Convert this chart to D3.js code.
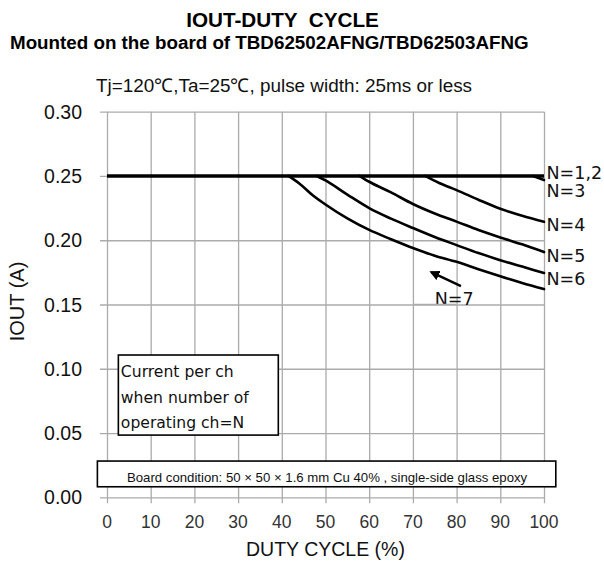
<!DOCTYPE html>
<html>
<head>
<meta charset="utf-8">
<script src="https://cdn.jsdelivr.net/npm/d3@7"></script>
<style>
  html, body { margin: 0; padding: 0; background: #fff; }
  svg { display: block; }
  text { white-space: pre; }
</style>
</head>
<body>
<svg id="chart" width="604" height="562"></svg>
<script>
// ---------------- Data ----------------
const titleText = "IOUT-DUTY  CYCLE";
const subtitleText = "Mounted on the board of TBD62502AFNG/TBD62503AFNG";
const conditionText = "Tj=120℃,Ta=25℃, pulse width: 25ms or less";
const xAxisTitle = "DUTY CYCLE (%)";
const yAxisTitle = "IOUT (A)";
const xTicks = [0, 10, 20, 30, 40, 50, 60, 70, 80, 90, 100];
const yTicks = [0.00, 0.05, 0.10, 0.15, 0.20, 0.25, 0.30];
const legendLines = ["Current per ch", "when number of", "operating ch=N"];
const boardText = "Board condition: 50 × 50 × 1.6 mm Cu 40% , single-side glass epoxy";

// series: [duty %, IOUT A]
const seriesN12 = [[0, 0.25], [100, 0.25]];
const seriesN3 = [[97.5, 0.25], [100, 0.2468]];
const seriesN4 = [[72.8, 0.25], [76, 0.2445], [80, 0.2390], [85, 0.2315], [90, 0.2245], [95, 0.2190], [100, 0.2143]];
const seriesN5 = [[57.8, 0.25], [60, 0.2455], [65, 0.2372], [70, 0.2282], [75, 0.2208], [80, 0.2145], [85, 0.2080], [90, 0.2022], [95, 0.1968], [100, 0.1908]];
const seriesN6 = [[48, 0.25], [50, 0.2465], [55, 0.2355], [60, 0.2250], [65, 0.2168], [70, 0.2095], [75, 0.2025], [80, 0.1962], [85, 0.1900], [90, 0.1845], [95, 0.1795], [100, 0.1745]];
const seriesN7 = [[41.5, 0.25], [44, 0.2442], [47, 0.2352], [50, 0.2278], [55, 0.2170], [60, 0.2080], [65, 0.2008], [70, 0.1940], [75, 0.1880], [80, 0.1832], [85, 0.1775], [90, 0.1720], [95, 0.1668], [100, 0.1620]];
const seriesNames = ["N=1,2", "N=3", "N=4", "N=5", "N=6", "N=7"];
// label anchor values (IOUT at label baseline)
const labelY = [0.2480, 0.2337, 0.2072, 0.1831, 0.1650];
const n7Label = [75, 0.1495];
const n7Arrow = [[81, 0.1643], [74.2, 0.1752]];
// annotation boxes in data units [x0, x1, y0, y1]
const legendBox = [2.6, 39.2, 0.0484, 0.1107];
const boardBox = [-2.2, 102.7, 0.0082, 0.0282];

// ---------------- Chart ----------------
const svg = d3.select("#chart");
const x = d3.scaleLinear().domain([0, 100]).range([107, 544]);
const y = d3.scaleLinear().domain([0, 0.30]).range([497.3, 111.7]);
const grid = "#ababab";

// titles
svg.append("text").attr("x", 282.5).attr("y", 26.5).attr("text-anchor", "middle")
  .attr("font-family", "Liberation Sans, Arial, sans-serif").attr("font-weight", "bold")
  .attr("font-size", 20.7).text(titleText);
svg.append("text").attr("x", 10).attr("y", 49).attr("text-anchor", "start")
  .attr("font-family", "Liberation Sans, Arial, sans-serif").attr("font-weight", "bold")
  .attr("font-size", 18.8).text(subtitleText);
svg.append("text").attr("x", 284).attr("y", 91.5).attr("text-anchor", "middle")
  .attr("font-family", "Liberation Sans, Arial, sans-serif")
  .attr("font-size", 18.9).attr("fill", "#111").text(conditionText);

// grid via axes
const gx = svg.append("g").attr("transform", `translate(0,${y(0)})`)
  .call(d3.axisBottom(x).tickValues(xTicks).tickSize(-(y(0) - y(0.30))).tickSizeOuter(0).tickFormat(""));
gx.select(".domain").remove();
gx.selectAll("line").attr("stroke", grid).attr("stroke-width", 1.3).attr("y2", -(y(0) - y(0.30))).attr("y1", 6);

const gy = svg.append("g").attr("transform", `translate(${x(0)},0)`)
  .call(d3.axisLeft(y).tickValues(yTicks).tickSize(-(x(100) - x(0))).tickSizeOuter(0).tickFormat(""));
gy.select(".domain").remove();
gy.selectAll("line").attr("stroke", grid).attr("stroke-width", 1.3).attr("x1", -7);

// tick labels
svg.append("g").selectAll("text").data(yTicks).join("text")
  .attr("x", 82).attr("y", d => y(d)).attr("dy", "0.36em").attr("text-anchor", "end")
  .attr("font-family", "Liberation Sans, Arial, sans-serif").attr("font-size", 19.5)
  .attr("fill", "#111").text(d => d.toFixed(2));
svg.append("g").selectAll("text").data(xTicks).join("text")
  .attr("x", d => x(d)).attr("y", 528).attr("text-anchor", "middle")
  .attr("font-family", "Liberation Sans, Arial, sans-serif").attr("font-size", 17.5)
  .attr("fill", "#333").text(d => d);

// axis titles
svg.append("text").attr("x", x(50)).attr("y", 555.5).attr("text-anchor", "middle")
  .attr("font-family", "Liberation Sans, Arial, sans-serif").attr("font-size", 19.5)
  .attr("fill", "#111").text(xAxisTitle);
svg.append("text").attr("transform", `translate(24,${(y(0.30) + y(0)) / 2 - 3}) rotate(-90)`)
  .attr("text-anchor", "middle")
  .attr("font-family", "Liberation Sans, Arial, sans-serif").attr("font-size", 20)
  .attr("fill", "#111").text(yAxisTitle);

// legend box
svg.append("rect").attr("x", x(legendBox[0])).attr("y", y(legendBox[3]))
  .attr("width", x(legendBox[1]) - x(legendBox[0])).attr("height", y(legendBox[2]) - y(legendBox[3]))
  .attr("fill", "#fff").attr("stroke", "#000").attr("stroke-width", 1.6);
svg.append("g").selectAll("text").data(legendLines).join("text")
  .attr("x", x(legendBox[0]) + 2.5).attr("y", (d, i) => y(legendBox[3]) + 22 + i * 25.5)
  .attr("font-family", "DejaVu Sans, Verdana, sans-serif").attr("font-size", 15.6)
  .attr("fill", "#111").text(d => d);

// board condition box
svg.append("rect").attr("x", x(boardBox[0])).attr("y", y(boardBox[3]))
  .attr("width", x(boardBox[1]) - x(boardBox[0])).attr("height", y(boardBox[2]) - y(boardBox[3]))
  .attr("fill", "#fff").attr("stroke", "#000").attr("stroke-width", 1.6);
svg.append("text").attr("x", (x(boardBox[0]) + x(boardBox[1])) / 2 + 0.5).attr("y", 481.8)
  .attr("text-anchor", "middle")
  .attr("font-family", "Liberation Sans, Arial, sans-serif").attr("font-size", 13.2)
  .attr("fill", "#111").text(boardText);

// curves
const line = d3.line().x(d => x(d[0])).y(d => y(d[1])).curve(d3.curveMonotoneX);
const curves = [seriesN7, seriesN6, seriesN5, seriesN4, seriesN3];
svg.append("g").selectAll("path").data(curves).join("path")
  .attr("d", line).attr("fill", "none").attr("stroke", "#000")
  .attr("stroke-width", 2.6).attr("stroke-linejoin", "round").attr("stroke-linecap", "round");
svg.append("path").datum(seriesN12).attr("d", line).attr("fill", "none")
  .attr("stroke", "#000").attr("stroke-width", 3.6);

// labels
svg.append("g").selectAll("text").data(labelY).join("text")
  .attr("x", x(100) + 2.5).attr("y", d => y(d))
  .attr("font-family", "DejaVu Sans, Verdana, sans-serif").attr("font-size", 17.5)
  .attr("fill", "#111").text((d, i) => seriesNames[i]);

// N=7 label and arrow
svg.append("defs").append("marker").attr("id", "ah").attr("viewBox", "0 0 10 10")
  .attr("refX", 8).attr("refY", 5).attr("markerWidth", 4.2).attr("markerHeight", 4.2)
  .attr("orient", "auto").append("path").attr("d", "M0,0 L10,5 L0,10 z").attr("fill", "#000");
svg.append("line").attr("x1", x(n7Arrow[0][0])).attr("y1", y(n7Arrow[0][1]))
  .attr("x2", x(n7Arrow[1][0])).attr("y2", y(n7Arrow[1][1]))
  .attr("stroke", "#000").attr("stroke-width", 2.4).attr("marker-end", "url(#ah)");
svg.append("text").attr("x", x(n7Label[0])).attr("y", y(n7Label[1]))
  .attr("font-family", "DejaVu Sans, Verdana, sans-serif").attr("font-size", 17.5)
  .attr("fill", "#111").text(seriesNames[5]);
// gridline passes over the bottom of the N=7 label in the reference
svg.append("line").attr("x1", x(70)).attr("x2", x(80)).attr("y1", y(0.15)).attr("y2", y(0.15))
  .attr("stroke", grid).attr("stroke-width", 1.3);
</script>
</body>
</html>
